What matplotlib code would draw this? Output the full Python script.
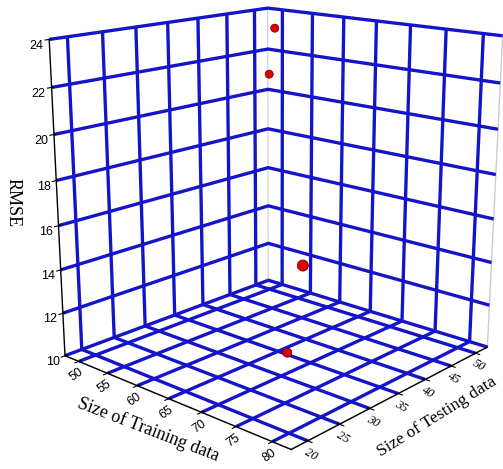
import matplotlib
matplotlib.use("Agg")
import matplotlib.pyplot as plt

train_size = [50, 60, 70, 80]
test_size = [50, 40, 31, 22]
rmse = [21.0, 24.0, 10.95, 16.6]

train_ticks = [50, 55, 60, 65, 70, 75, 80]
test_ticks = [20, 25, 30, 35, 40, 45, 50]
rmse_ticks = [10, 12, 14, 16, 18, 20, 22, 24]

plt.rcParams['grid.color'] = '#1414c8'
plt.rcParams['grid.linewidth'] = 2.4
plt.rcParams['font.family'] = 'Liberation Sans'

fig = plt.figure(figsize=(5.03, 4.69), dpi=100)
ax = fig.add_subplot(111, projection='3d', proj_type='persp', focal_length=0.5)
ax.set_position([0.04, 0.06, 1.0, 1.0])
ax.view_init(elev=16, azim=-48)
ax.set_box_aspect((0.95, 0.95, 1.0), zoom=1.13)

ax.scatter(train_size, test_size, rmse, s=[33, 33, 42, 63], c='#e00000',
           edgecolors='#7a0000', linewidths=0.6, depthshade=False, alpha=1)

ax.set_xlim(47.5, 82.5)
ax.set_ylim(17.5, 52.5)
ax.set_zlim(10, 24)
ax.set_xticks(train_ticks)
ax.set_yticks(test_ticks)
ax.set_zticks(rmse_ticks)
ax.zaxis.set_ticks_position('lower')

for a in (ax.xaxis, ax.yaxis, ax.zaxis):
    a.pane.set_facecolor('white')
    a.pane.set_edgecolor('#999999')
    a.line.set_color('black')
    a.line.set_linewidth(1.0)

ax.tick_params(axis='both', labelsize=9, pad=0)
ax.tick_params(axis='x', pad=-6)
ax.tick_params(axis='y', pad=-6)
ax.tick_params(axis='z', pad=-3)
for lab in ax.get_xticklabels():
    lab.set_rotation(35)
for lab in ax.get_yticklabels():
    lab.set_rotation(-30)
    lab.set_fontfamily('Liberation Serif')
    lab.set_fontstyle('italic')

fig.text(148 / 503, 1 - 430 / 469, 'Size of Training data', family='Liberation Serif',
         fontsize=13, rotation=-21, ha='center', va='center', rotation_mode='anchor')
fig.text(437 / 503, 1 - 417 / 469, 'Size of Testing data', family='Liberation Serif',
         fontsize=12.5, rotation=32, ha='center', va='center', rotation_mode='anchor')
fig.text(13 / 503, 1 - 203 / 469, 'RMSE', family='Liberation Serif', fontsize=13,
         rotation=-90, ha='center', va='center')

fig.savefig('out.png', dpi=100)
